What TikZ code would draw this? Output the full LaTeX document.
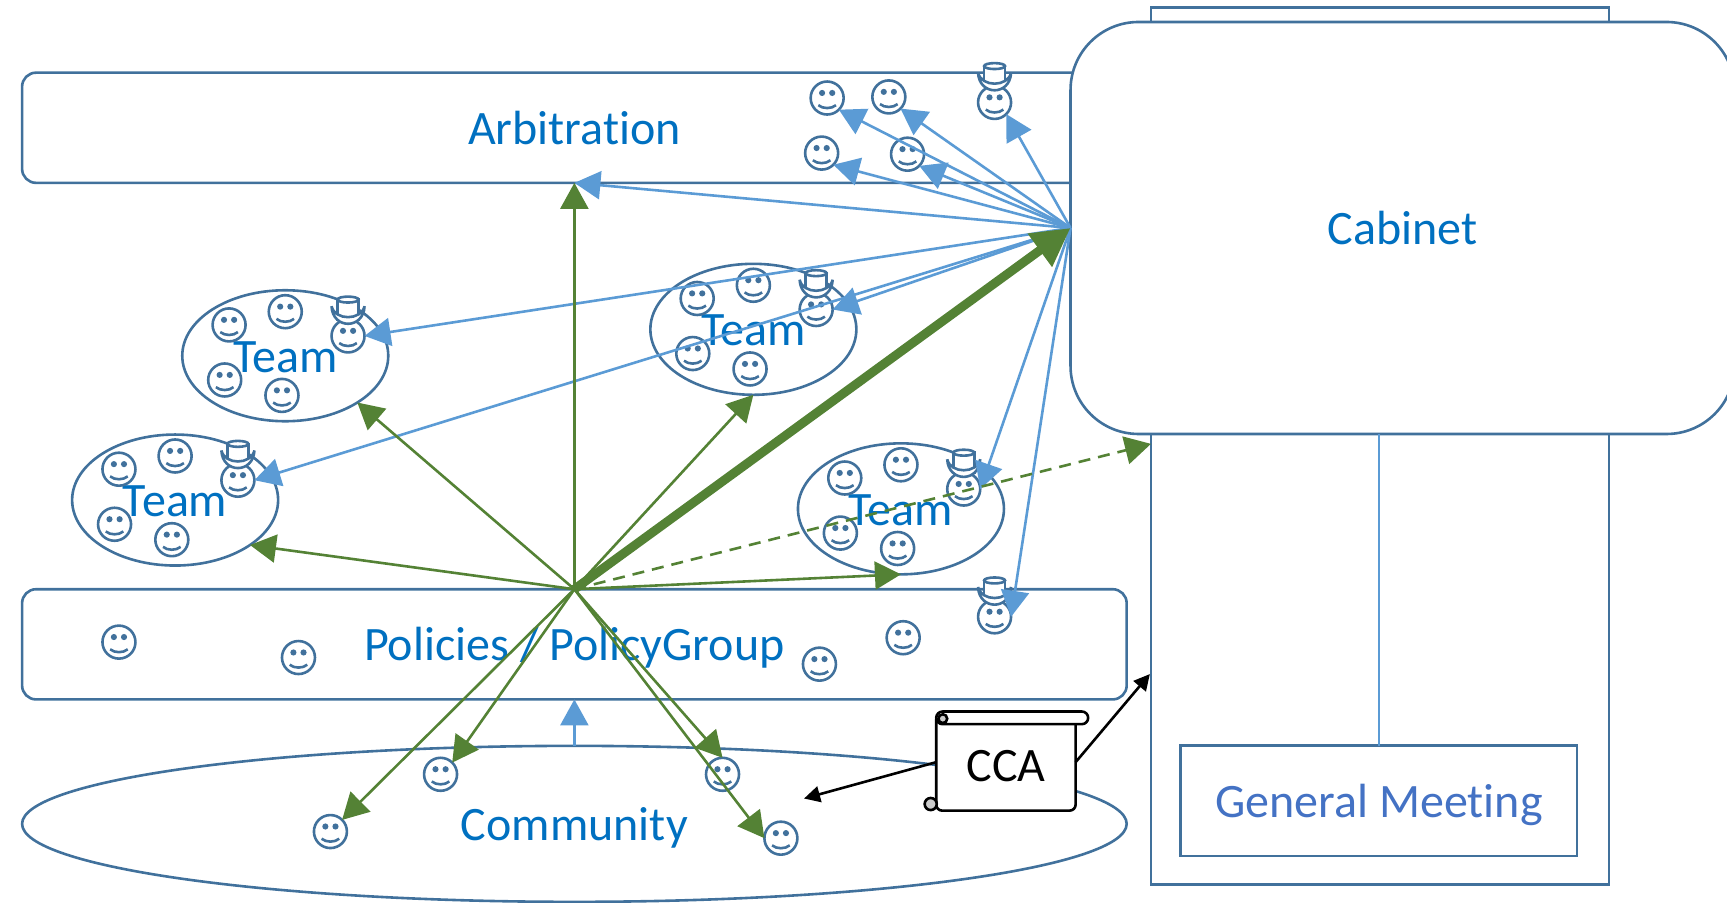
\documentclass[tikz,border=0pt]{standalone}
\usepackage{fontspec}
\setmainfont[Ligatures=NoCommon]{Carlito}
\usetikzlibrary{arrows.meta,shapes.geometric}
\definecolor{outl}{HTML}{41719C}
\definecolor{bluea}{HTML}{5B9BD5}
\definecolor{greena}{HTML}{548235}
\definecolor{labelblue}{HTML}{0070C0}
\definecolor{gmblue}{HTML}{4472C4}
\tikzset{
  box/.style={draw=outl,line width=1.3pt,inner sep=0pt,outer sep=0pt,font=\fontsize{24}{28}\selectfont,text=labelblue,text height=16.5pt,text depth=0pt},
  roundbox/.style={box,rectangle,rounded corners=7pt},
  oval/.style={box,ellipse},
  teamoval/.style={oval,minimum width=103pt,minimum height=65.5pt},
  smileface/.style={circle,draw=outl,line width=1.3pt,minimum size=16.5pt,inner sep=0pt,outer sep=0pt},
  bluearrow/.style={draw=bluea,line width=1.3pt,-{Triangle[length=13pt,width=14pt]}},
  greenarrow/.style={draw=greena,line width=1.3pt,-{Triangle[length=13pt,width=14pt]}},
  thickgreen/.style={draw=greena,line width=4.5pt,-{Triangle[length=19pt,width=19.5pt]}},
  blackarrow/.style={draw=black,line width=1.3pt,-{Triangle[length=8pt,width=8pt]}}
}
\newcommand{\smiley}[3]{%
  \begin{scope}[shift={(#2,#3)}]
    \node[smileface] (#1) at (0,0) {};
    \fill[outl] (-4.6,-4.6) circle[radius=2.8] (4.6,-4.6) circle[radius=2.8];
    \draw[outl,line width=1.3pt] (-8,6.5) .. controls (-4,10) and (4,10) .. (8,6.5);
  \end{scope}}
\newcommand{\tophat}[2]{%
  \begin{scope}[shift={(#1,#2)}]
    \filldraw[draw=outl,fill=white,line width=1.3pt] (-9.5,-33) -- (-9.5,-15) -- (9.5,-15) -- (9.5,-33) -- cycle;
    \filldraw[draw=outl,fill=white,line width=1.3pt] (-15,-27) .. controls (-14,-5.7) and (14,-5.7) .. (15,-27) .. controls (12,-13.7) and (-12,-13.7) .. cycle;
    \filldraw[draw=outl,fill=white,line width=1.3pt] (0,-33) ellipse[x radius=9.5,y radius=2.7];
  \end{scope}}
\newcommand{\teamgroup}[4]{% prefix, x, y, unused
  \node[teamoval] (#1) at (#2,#3) {Team};
  \smiley{#1a}{#2-51}{#3-28}
  \smiley{#1b}{#2}{#3-40}
  \smiley{#1c}{#2-55}{#3+22}
  \smiley{#1d}{#2-3}{#3+36}
  \smiley{#1l}{#2+57}{#3-18}
  \tophat{#2+57}{#3-18}}
\begin{document}
\begin{tikzpicture}[x=0.55070pt,y=-0.55070pt]
\useasboundingbox (0,0) rectangle (1568,819);
\clip (0,0) rectangle (1568,819);
% board and general meeting
\node[box,rectangle,minimum width=229.1pt,minimum height=438.4pt] (board) at (1253,405) {};
\node[box,rectangle,text=gmblue,minimum width=198.2pt,minimum height=55.1pt] (gm) at (1252,727) {General Meeting};
% bars
\node[roundbox,minimum width=552.3pt,minimum height=55.1pt] (arb) at (521.5,116) {Arbitration};
\node[roundbox,minimum width=552.3pt,minimum height=55.1pt] (pol) at (521.5,585) {Policies / PolicyGroup};
\node[oval,minimum width=552.3pt,minimum height=78pt] (com) at (521.5,748) {Community};
% cabinet
\node[box,rectangle,fill=white,rounded corners=34pt,minimum width=332pt,minimum height=206pt] (cab) at (1273.4,207) {Cabinet};
\draw[bluea,line width=1.3pt] (cab.south -| gm.north) -- (gm.north);
% teams
\teamgroup{ta}{259}{323}{}
\teamgroup{tb}{684}{299}{}
\teamgroup{tc}{159}{454}{}
\teamgroup{td}{818}{462}{}
% loose faces
\smiley{aa}{751}{89}
\smiley{ab}{807}{88}
\smiley{ac}{746}{139}
\smiley{ad}{824}{140}
\smiley{al}{903}{93}
\tophat{903}{93}
\smiley{pa}{108}{583}
\smiley{pb}{271}{597}
\smiley{pc}{744}{603}
\smiley{pd}{820}{579}
\smiley{pl}{903}{560}
\tophat{903}{560}
\smiley{ca}{300}{755}
\smiley{cb}{400}{703}
\smiley{cc}{656}{703}
\smiley{cd}{709}{761}
% hubs
\coordinate (hubb) at (cab.west);
\coordinate (hubg) at (pol.north);
\coordinate (dashend) at (1045,403);
\coordinate (memo) at (730,725);
\coordinate (boardin) at (1044,612);
% blue arrows
\draw[bluearrow] (hubb) -- (al.-45);
\draw[bluearrow] (hubb) -- (aa.-45);
\draw[bluearrow] (hubb) -- (ab.-45);
\draw[bluearrow] (hubb) -- (ac.-45);
\draw[bluearrow] (hubb) -- (ad.-45);
\draw[bluearrow] (hubb) -- (arb.south);
\draw[bluearrow] (hubb) -- (tal.east);
\draw[bluearrow] (hubb) -- (tbl.east);
\draw[bluearrow] (hubb) -- (tcl.east);
\draw[bluearrow] (hubb) -- (tdl.east);
\draw[bluearrow] (hubb) -- (pl.east);
\draw[bluearrow] (com.north) -- (pol.south);
% green arrows
\draw[greenarrow] (hubg) -- (arb.south);
\draw[greenarrow] (hubg) -- (ta.-33);
\draw[greenarrow] (hubg) -- (tc.-31);
\draw[greenarrow] (hubg) -- (tb.-90);
\draw[greenarrow] (hubg) -- (td.-90);
\draw[greenarrow,dash pattern=on 6pt off 4pt] (hubg) -- (dashend);
\draw[greenarrow] (hubg) -- (ca.45);
\draw[greenarrow] (hubg) -- (cb.45);
\draw[greenarrow] (hubg) -- (cc.north);
\draw[greenarrow] (hubg) -- (cd.west);
\draw[thickgreen] (hubg) -- (hubb);
% scroll
\begin{scope}[line width=1.3pt,draw=black]
  \filldraw[fill=white,draw=black,rounded corners=3pt] (850,648) rectangle (976.6,736);
  \filldraw[fill=white,draw=black,rounded corners=3.2pt] (850,646) rectangle (988,657.5);
  \filldraw[fill=black!20,draw=black] (845,730) circle[radius=5.5];
  \filldraw[fill=black!20,draw=black] (856,652.5) circle[radius=4];
\end{scope}
\node[inner sep=0pt,outer sep=0pt,minimum width=69.7pt,minimum height=49pt,font=\fontsize{24}{28}\selectfont,text height=19.8pt,text depth=0pt] (cca) at (913.3,692) {CCA};
\draw[blackarrow] (cca.west) -- (memo);
\draw[blackarrow] (cca.east) -- (boardin);
\end{tikzpicture}
\end{document}
